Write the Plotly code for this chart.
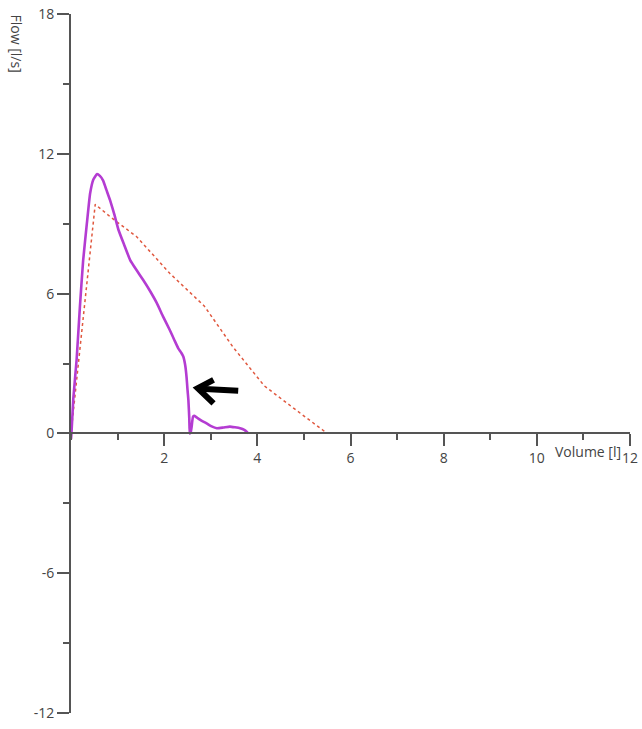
import plotly.graph_objects as go

# Measured flow-volume loop (purple)
meas_volume = [0.00, 0.01, 0.05, 0.12, 0.19, 0.26, 0.34, 0.41, 0.48, 0.56, 0.62, 0.69, 0.76, 0.84, 0.93,
               1.02, 1.14, 1.27, 1.41, 1.55, 1.70, 1.84, 1.98, 2.12, 2.22, 2.30, 2.37, 2.41, 2.45,
               2.48, 2.50, 2.52, 2.54, 2.55, 2.57, 2.59, 2.62, 2.66, 2.70, 2.80, 2.91, 3.02,
               3.13, 3.27, 3.41, 3.52, 3.63, 3.72, 3.77, 3.80]
meas_flow = [-0.25, 0.0, 1.5, 3.15, 5.4, 7.4, 9.0, 10.3, 10.9, 11.13, 11.05, 10.85, 10.45, 10.0, 9.4,
             8.73, 8.1, 7.44, 7.0, 6.58, 6.1, 5.6, 5.0, 4.44, 4.0, 3.66, 3.45, 3.3, 2.95,
             2.43, 1.9, 1.43, 0.6, 0.0, 0.05, 0.29, 0.72, 0.75, 0.68, 0.55, 0.43, 0.30,
             0.22, 0.25, 0.29, 0.26, 0.22, 0.15, 0.07, 0.0]

# Predicted curve (red dotted)
pred_volume = [0.00, 0.52, 0.84, 1.41, 2.12, 2.86, 3.48, 4.15, 4.80, 5.50]
pred_flow = [0.00, 9.83, 9.30, 8.44, 6.87, 5.47, 3.70, 2.04, 1.05, 0.00]

# Arrow annotation (data coords): tip, arm ends, tail
arrow_tip = (2.72, 1.94)
arrow_arm_up = (3.06, 2.30)
arrow_arm_down = (3.06, 1.29)
arrow_tail = (3.59, 1.83)

x_ticks = [2, 4, 6, 8, 10, 12]
y_ticks = [-12, -6, 0, 6, 12, 18]

FONT = "Open Sans, Noto Sans, DejaVu Sans, sans-serif"
AX = "#555555"
TXT = "#444444"

fig = go.Figure()
fig.add_trace(go.Scatter(x=pred_volume, y=pred_flow, mode="lines",
                         line=dict(color="#e0583f", width=1.5, dash="dot"),
                         showlegend=False, hoverinfo="skip"))
fig.add_trace(go.Scatter(x=meas_volume, y=meas_flow, mode="lines",
                         line=dict(color="#b43cd2", width=2.6, shape="spline", smoothing=0.4),
                         showlegend=False, hoverinfo="skip"))

fig.add_shape(type="path", xref="x", yref="y",
              path=f"M {arrow_tail[0]} {arrow_tail[1]} L {arrow_tip[0]+0.05} {arrow_tip[1]-0.02}",
              line=dict(color="black", width=6))
fig.add_shape(type="path", xref="x", yref="y",
              path=(f"M {arrow_arm_up[0]} {arrow_arm_up[1]} L {arrow_tip[0]} {arrow_tip[1]} "
                    f"L {arrow_arm_down[0]} {arrow_arm_down[1]}"),
              line=dict(color="black", width=6))

fig.update_layout(
    width=642, height=729,
    margin=dict(l=71, r=12, t=14, b=16),
    paper_bgcolor="white", plot_bgcolor="white",
    font=dict(family=FONT, size=14, color=TXT),
    xaxis=dict(range=[0, 12], showgrid=False, zeroline=False, automargin=False,
               showline=True, linecolor=AX, linewidth=2,
               anchor="free", position=0.4,
               tickmode="array", tickvals=x_ticks, ticktext=[str(v) for v in x_ticks],
               ticks="outside", ticklen=12, tickwidth=2, tickcolor=AX,
               minor=dict(dtick=1, tick0=1, ticks="outside", ticklen=6, tickwidth=2, tickcolor=AX),
               tickfont=dict(size=14, color=TXT)),
    yaxis=dict(range=[-12, 18], showgrid=False, zeroline=False, automargin=False,
               showline=True, linecolor=AX, linewidth=2,
               tickmode="array", tickvals=y_ticks, ticktext=[str(v) for v in y_ticks],
               ticks="outside", ticklen=12, tickwidth=2, tickcolor=AX,
               minor=dict(dtick=3, tick0=3, ticks="outside", ticklen=6, tickwidth=2, tickcolor=AX),
               tickfont=dict(size=14, color=TXT)),
    annotations=[
        dict(text="Volume [l]", x=12, y=0, xref="x", yref="y", xanchor="right", yanchor="top",
             yshift=-7, xshift=-7, showarrow=False, font=dict(size=14, color=TXT)),
        dict(text="Flow [l/s]", x=-0.097, y=0.958, xref="paper", yref="paper", textangle=90,
             xanchor="center", yanchor="middle", showarrow=False, font=dict(size=14, color=TXT)),
    ],
)

fig.write_html("out.html")
